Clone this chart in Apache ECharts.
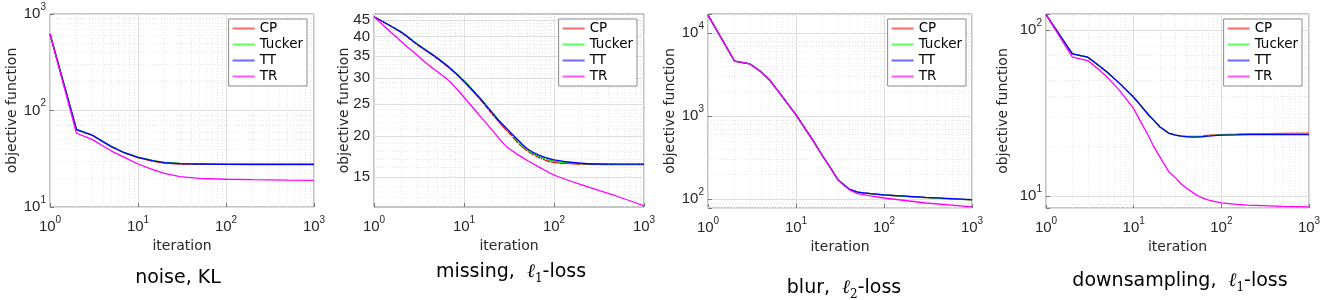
<!DOCTYPE html>
<html>
<head>
<meta charset="utf-8">
<script src="https://cdn.jsdelivr.net/npm/echarts@6/dist/echarts.min.js"></script>
<style>
html, body { margin: 0; padding: 0; background: #fff; }
#char { width: 1325px; height: 300px; }
</style>
</head>
<body>
<div id="char"></div>
<script>
var methods = ['CP', 'Tucker', 'TT', 'TR'];

// noise, KL
var noiseIter = [1, 2, 3, 4, 5, 7, 10, 15, 20, 30, 50, 100, 200, 500, 1000];
var noiseCP = [621, 63.3, 55.5, 47.4, 42.0, 36.3, 32.4, 29.7, 28.5, 27.9, 27.7, 27.6, 27.5, 27.5, 27.5];
var noiseTucker = [621, 63.7, 55.9, 47.8, 42.4, 36.7, 32.9, 30.3, 29.0, 28.3, 28.0, 27.9, 27.9, 27.9, 27.9];
var noiseTT = [621, 63.5, 55.7, 47.6, 42.2, 36.5, 32.7, 30.0, 28.8, 28.1, 27.9, 27.7, 27.7, 27.7, 27.7];
var noiseTR = [621, 58.1, 50.2, 42.9, 38.0, 32.7, 27.9, 24.2, 22.3, 20.6, 19.8, 19.4, 19.2, 19.0, 18.9];

// missing, l1-loss
var missIter = [1, 2, 3, 4, 5, 7, 10, 15, 20, 25, 30, 35, 40, 50, 70, 100, 200, 500, 1000];
var missCP = [46.0, 41.2, 37.9, 35.9, 34.4, 32.0, 29.2, 25.9, 23.5, 21.9, 20.7, 19.8, 19.0, 18.0, 17.1, 16.6, 16.4, 16.35, 16.35];
var missTucker = [46.0, 41.4, 38.1, 36.1, 34.6, 32.2, 29.4, 26.1, 23.8, 22.1, 20.9, 20.0, 19.2, 18.15, 17.25, 16.75, 16.45, 16.4, 16.4];
var missTT = [46.0, 41.3, 38.0, 36.0, 34.5, 32.1, 29.3, 26.0, 23.7, 22.1, 21.0, 20.1, 19.4, 18.3, 17.4, 16.9, 16.5, 16.4, 16.4];
var missTR = [46.0, 38.7, 35.2, 32.9, 31.4, 29.2, 26.2, 23.0, 21.0, 19.5, 18.5, 17.95, 17.5, 16.85, 16.0, 15.2, 14.2, 13.1, 12.25];

// blur, l2-loss
var blurIter = [1, 2, 3, 4, 5, 7, 10, 15, 20, 25, 30, 40, 50, 70, 100, 300, 1000];
var blurCP = [16600, 4630, 4265, 3440, 2735, 1723, 1037, 543, 333, 232, 171, 132, 121, 116, 112, 104, 98];
var blurTucker = [16600, 4630, 4265, 3440, 2735, 1723, 1037, 543, 333, 232, 171, 132, 121, 116, 112, 104, 98];
var blurTT = [16600, 4630, 4265, 3440, 2735, 1723, 1037, 543, 333, 232, 171, 132, 121.5, 116.5, 112.5, 104.5, 98.5];
var blurTR = [16600, 4630, 4265, 3440, 2735, 1723, 1037, 543, 333, 232, 170, 130, 116, 109, 103, 89.6, 80.5];

// downsampling, l1-loss
var downIter = [1, 2, 3, 4, 5, 7, 10, 12, 15, 17, 20, 25, 30, 35, 40, 50, 60, 70, 100, 150, 200, 500, 1000];
var downCP = [123.5, 71.8, 68.6, 61.1, 55.7, 47.4, 39.4, 35.2, 30.6, 28.6, 26.1, 24.0, 23.3, 23.0, 22.9, 22.9, 23.0, 23.2, 23.5, 23.6, 23.7, 23.9, 24.0];
var downTucker = [123.5, 71.8, 68.6, 61.1, 55.7, 47.4, 39.4, 35.2, 30.6, 28.6, 26.1, 24.0, 23.3, 23.0, 22.9, 22.8, 22.9, 23.1, 23.4, 23.5, 23.6, 23.7, 23.8];
var downTT = [123.5, 71.8, 68.6, 61.1, 55.7, 47.4, 39.4, 35.2, 30.6, 28.6, 26.1, 24.0, 23.3, 23.0, 22.8, 22.7, 22.8, 23.0, 23.3, 23.4, 23.5, 23.5, 23.5];
var downTR = [123.5, 68.6, 65.4, 57.8, 52.0, 42.9, 33.6, 28.1, 22.7, 19.8, 17.2, 14.1, 12.9, 11.8, 11.2, 10.3, 9.8, 9.5, 9.12, 8.95, 8.85, 8.7, 8.63];

// grid (tick) values
var xMinor = [2, 3, 4, 5, 6, 7, 8, 9, 20, 30, 40, 50, 60, 70, 80, 90, 200, 300, 400, 500, 600, 700, 800, 900];
var noiseYMinor = [20, 30, 40, 50, 60, 70, 80, 90, 200, 300, 400, 500, 600, 700, 800, 900];
var missYTicks = [15, 20, 25, 30, 35, 40, 45];
var missYMinor = [13, 14, 16, 17, 18, 19, 21, 22, 23, 24, 26, 27, 28, 29, 31, 32, 33, 34, 36, 37, 38, 39, 41, 42, 43, 44, 46];
var blurYMinor = [80, 90, 200, 300, 400, 500, 600, 700, 800, 900, 2000, 3000, 4000, 5000, 6000, 7000, 8000, 9000];
var downYMinor = [9, 20, 30, 40, 50, 60, 70, 80, 90];

var panels = [
    { title: '{t|noise, KL}', iter: noiseIter, ys: [noiseCP, noiseTucker, noiseTT, noiseTR], smooth: false,
      ymin: 10, ymax: 1000, yMinor: noiseYMinor, yTicks: null,
      left: 50, width: 264, bottom: 207, nameGap: 30, titleX: 178, titleY: 265, legendRight: 1018 },
    { title: '{t|missing,  }{l|ℓ}{u|1}{t|-loss}', iter: missIter, ys: [missCP, missTucker, missTT, missTR], smooth: 0.3,
      ymin: 12.15, ymax: 46.9, yMinor: missYMinor, yTicks: missYTicks,
      left: 374, width: 270, bottom: 207, nameGap: 23, titleX: 511, titleY: 259, legendRight: 688 },
    { title: '{t|blur,  }{l|ℓ}{u|2}{t|-loss}', iter: blurIter, ys: [blurCP, blurTucker, blurTT, blurTR], smooth: false,
      ymin: 78, ymax: 17100, yMinor: blurYMinor, yTicks: null,
      left: 708, width: 264, bottom: 208, nameGap: 29, titleX: 844, titleY: 275, legendRight: 359 },
    { title: '{t|downsampling,  }{l|ℓ}{u|1}{t|-loss}', iter: downIter, ys: [downCP, downTucker, downTT, downTR], smooth: false,
      ymin: 8.5, ymax: 124.7, yMinor: downYMinor, yTicks: null,
      left: 1046, width: 263, bottom: 208, nameGap: 36, titleX: 1180, titleY: 268, legendRight: 23 }
];

var lineColors = ['#ff0000', '#00e600', '#0000ff', '#ff00ff'];
var legendColors = ['#ff6a6a', '#5cff5c', '#6a6aff', '#ff55ff'];
var txt = '#262626';
var majorGrid = { color: '#dedede', width: 1, type: 'solid' };
var minorGrid = { color: '#e6e6e6', width: 1, type: [1, 2] };

function isPow10(v) {
    var e = Math.log10(v);
    return Math.abs(e - Math.round(e)) < 1e-6;
}
function powLabel(v) {
    if (!isPow10(v)) return '';
    return '{b|10}{s|' + Math.round(Math.log10(v)) + '}';
}
var powRich = {
    b: { fontSize: 15, lineHeight: 24, color: txt, fontFamily: 'Liberation Sans' },
    s: { fontSize: 10, verticalAlign: 'top', color: txt, fontFamily: 'Liberation Sans' }
};

var dom = document.getElementById('char');
var myChart = echarts.init(dom);

var grid = [], xAxis = [], yAxis = [], series = [], legend = [], title = [];

panels.forEach(function (p, i) {
    grid.push({
        left: p.left, width: p.width, top: 14, height: p.bottom - 14,
        show: true, borderColor: '#8a8a8a', borderWidth: 1, backgroundColor: '#fff'
    });
    xAxis.push({
        type: 'log', logBase: 10, gridIndex: i, min: 1, max: 1000,
        name: 'iteration', nameLocation: 'middle', nameGap: 31,
        nameTextStyle: { fontSize: 14, color: txt, fontFamily: 'DejaVu Sans' },
        axisLine: { show: false },
        axisTick: { show: true, inside: true, length: 4, lineStyle: { color: '#777' } },
        axisLabel: { formatter: powLabel, rich: powRich, margin: 8, showMinLabel: true, showMaxLabel: true },
        splitLine: { show: true, lineStyle: majorGrid }
    });
    yAxis.push({
        type: 'log', logBase: 10, gridIndex: i, min: p.ymin, max: p.ymax,
        name: 'objective function', nameLocation: 'middle', nameGap: p.nameGap,
        nameTextStyle: { fontSize: 14, color: txt, fontFamily: 'DejaVu Sans' },
        axisLine: { show: false },
        axisTick: { show: !p.yTicks, inside: true, length: 4, lineStyle: { color: '#777' } },
        axisLabel: { show: !p.yTicks, formatter: powLabel, rich: powRich, margin: 4, showMinLabel: true, showMaxLabel: true },
        splitLine: { show: !p.yTicks, lineStyle: majorGrid }
    });

    // grid lines that the log axis does not draw
    var marks = [];
    xMinor.forEach(function (v) { marks.push({ xAxis: v, lineStyle: minorGrid }); });
    p.yMinor.forEach(function (v) { marks.push({ yAxis: v, lineStyle: minorGrid }); });
    if (p.yTicks) {
        p.yTicks.forEach(function (v) {
            marks.push({
                yAxis: v, lineStyle: majorGrid,
                label: { show: true, position: 'start', formatter: String(v), distance: 4,
                         fontSize: 15, color: txt, fontFamily: 'Liberation Sans' }
            });
        });
    }
    series.push({
        type: 'line', xAxisIndex: i, yAxisIndex: i, data: [], silent: true, z: 1,
        markLine: { silent: true, symbol: ['none', 'none'], animation: false,
                    label: { show: false }, data: marks }
    });

    methods.forEach(function (m, k) {
        series.push({
            name: m, type: 'line', xAxisIndex: i, yAxisIndex: i,
            showSymbol: false, symbol: 'none', smooth: p.smooth, z: 3 + k,
            lineStyle: { color: lineColors[k], width: 1.3 },
            itemStyle: { color: lineColors[k] },
            data: p.iter.map(function (x, j) { return [x, p.ys[k][j]]; })
        });
    });

    legend.push({
        orient: 'vertical', right: p.legendRight, top: 19, z: 20,
        backgroundColor: '#fff', borderColor: '#8a8a8a', borderWidth: 1,
        padding: [2, 4, 2, 4], itemGap: 1, itemWidth: 22, itemHeight: 2, icon: 'rect',
        textStyle: { fontSize: 13.5, lineHeight: 15, color: '#000', fontFamily: 'DejaVu Sans' },
        selectedMode: false,
        data: methods.map(function (m, k) { return { name: m, itemStyle: { color: legendColors[k] } }; })
    });

    title.push({
        text: p.title, left: p.titleX, top: p.titleY, textAlign: 'center', padding: 0,
        textStyle: {
            fontWeight: 'normal',
            rich: {
                t: { fontSize: 19, lineHeight: 26, color: '#000', fontWeight: 'normal', fontFamily: 'DejaVu Sans' },
                l: { fontSize: 19, lineHeight: 26, color: '#000', fontWeight: 'normal', fontFamily: 'DejaVu Serif', fontStyle: 'italic' },
                u: { fontSize: 12, verticalAlign: 'bottom', color: '#000', fontWeight: 'normal', fontFamily: 'DejaVu Serif' }
            }
        }
    });
});

var option = {
    animation: false,
    title: title,
    grid: grid,
    xAxis: xAxis,
    yAxis: yAxis,
    legend: legend,
    series: series
};
myChart.setOption(option);
</script>
</body>
</html>
